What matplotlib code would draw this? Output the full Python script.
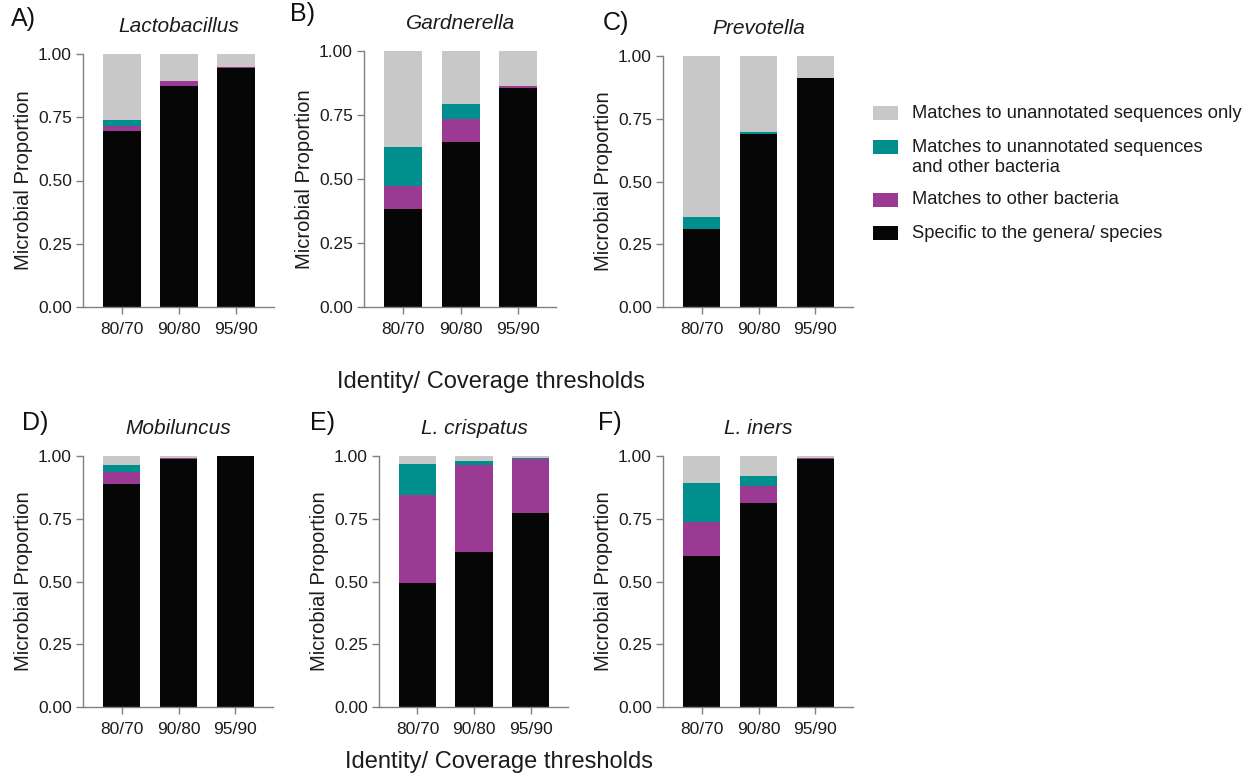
import numpy as np
import matplotlib.pyplot as plt
from matplotlib.patches import Rectangle

plt.rcParams['font.family'] = ['Liberation Sans', 'DejaVu Sans']

thresholds = ["80/70", "90/80", "95/90"]
panels = ["A)", "B)", "C)", "D)", "E)", "F)"]
taxa = ["Lactobacillus", "Gardnerella", "Prevotella", "Mobiluncus", "L. crispatus", "L. iners"]

# stacked from the bottom: specific, other bacteria, unannotated + other, unannotated only
specific = [
    [0.694, 0.875, 0.943],
    [0.384, 0.645, 0.857],
    [0.310, 0.691, 0.912],
    [0.887, 0.987, 1.000],
    [0.493, 0.618, 0.774],
    [0.602, 0.811, 0.987],
]
other_bacteria = [
    [0.023, 0.017, 0.007],
    [0.089, 0.091, 0.006],
    [0.000, 0.000, 0.000],
    [0.049, 0.005, 0.000],
    [0.350, 0.347, 0.213],
    [0.134, 0.069, 0.005],
]
unannot_and_other = [
    [0.023, 0.000, 0.000],
    [0.152, 0.056, 0.000],
    [0.050, 0.006, 0.000],
    [0.027, 0.000, 0.000],
    [0.126, 0.016, 0.005],
    [0.155, 0.040, 0.000],
]
unannot_only = [
    [0.260, 0.108, 0.050],
    [0.375, 0.208, 0.137],
    [0.640, 0.303, 0.088],
    [0.037, 0.008, 0.000],
    [0.031, 0.019, 0.008],
    [0.109, 0.080, 0.008],
]

legend_labels = ["Matches to unannotated sequences only",
                 "Matches to unannotated sequences\nand other bacteria",
                 "Matches to other bacteria",
                 "Specific to the genera/ species"]
colors = ["#c8c8c8", "#008f8c", "#9b3a93", "#060606"]

W, H = 1250, 781
fig = plt.figure(figsize=(12.5, 7.81), dpi=100)

# axes boxes in pixels: left, right, top, bottom
boxes = [(83, 274, 54, 307), (364, 556, 51, 307), (663, 853, 56, 307),
         (83, 273, 456, 707), (379, 568, 456, 707), (663, 853, 456, 707)]
letter_pos = [(11, 19), (290, 14), (603, 23), (22, 423), (310, 423), (598, 423)]

grey = "#808080"
txt = "#1c1c1c"
x = np.arange(len(thresholds))

for i, (l, r, t, b) in enumerate(boxes):
    ax = fig.add_axes([l / W, 1 - b / H, (r - l) / W, (b - t) / H])
    s = np.array(specific[i])
    o = np.array(other_bacteria[i])
    uo = np.array(unannot_and_other[i])
    u = np.array(unannot_only[i])
    bw = 0.66
    ax.bar(x, s, bw, color=colors[3], edgecolor="none")
    ax.bar(x, o, bw, bottom=s, color=colors[2], edgecolor="none")
    ax.bar(x, uo, bw, bottom=s + o, color=colors[1], edgecolor="none")
    ax.bar(x, u, bw, bottom=s + o + uo, color=colors[0], edgecolor="none")

    ax.set_xlim(-0.68, 2.66)
    ax.set_ylim(0, 1)
    ax.set_yticks([0, 0.25, 0.5, 0.75, 1.0])
    ax.set_yticklabels(["0.00", "0.25", "0.50", "0.75", "1.00"])
    ax.set_xticks(x)
    ax.set_xticklabels(thresholds)
    for side in ["top", "right"]:
        ax.spines[side].set_visible(False)
    for side in ["left", "bottom"]:
        ax.spines[side].set_color(grey)
        ax.spines[side].set_linewidth(1.0)
    ax.tick_params(colors=grey, labelcolor=txt, labelsize=12.5,
                   length=5, width=1.0, pad=3)
    ax.tick_params(axis="x", pad=6)
    ax.set_ylabel("Microbial Proportion", fontsize=14.5, color=txt)
    ax.yaxis.set_label_coords(-50 / (r - l), 0.5)

    ax.annotate(taxa[i], xy=(1, 1), xycoords=("data", "axes fraction"),
                xytext=(0, 20), textcoords="offset points",
                ha="center", va="center", fontsize=15, style="italic",
                color=txt)
    fig.text(letter_pos[i][0] / W, 1 - letter_pos[i][1] / H, panels[i],
             fontsize=18, ha="left", va="center", color="#111111")

fig.text(491 / W, 1 - 382 / H, "Identity/ Coverage thresholds",
         fontsize=17, ha="center", va="center", color=txt)
fig.text(499 / W, 1 - 762 / H, "Identity/ Coverage thresholds",
         fontsize=17, ha="center", va="center", color=txt)

# legend on the right
rows = [113, 147, 200, 233]
for lab, col, ry in zip(legend_labels, colors, rows):
    fig.add_artist(Rectangle((873 / W, 1 - (ry + 6.5) / H), 25 / W, 13 / H,
                             transform=fig.transFigure, color=col, lw=0))
    lines = lab.split("\n")
    for k, line in enumerate(lines):
        fig.text(912 / W, 1 - (ry + 21 * k) / H, line, fontsize=13.2,
                 ha="left", va="center", color=txt)

fig.savefig("out.png", dpi=100, facecolor="white")
